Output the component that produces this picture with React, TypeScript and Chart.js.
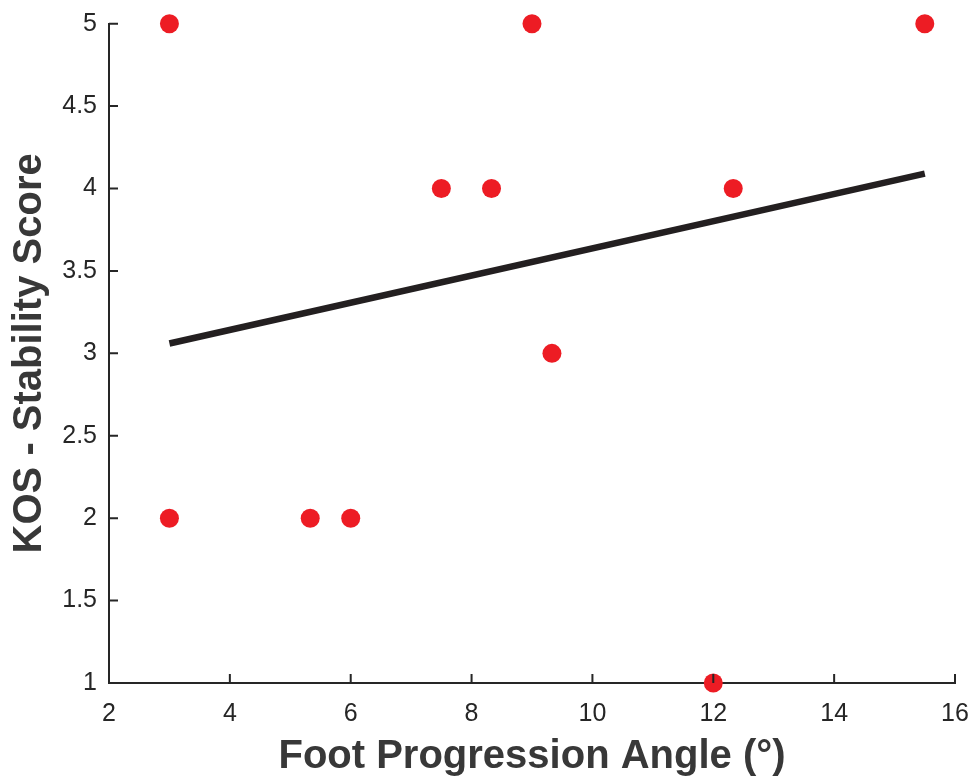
import React, { useEffect, useRef } from "react";
import { Chart, registerables } from "chart.js";

Chart.register(...registerables);

const pointX = [3, 9, 15.5, 7.5, 8.33, 12.33, 9.33, 3, 5.33, 6, 12];
const pointY = [5, 5, 5, 4, 4, 4, 3, 2, 2, 2, 1];
const fitX = [3, 15.5];
const fitY = [3.06, 4.09];
const xTitle = "Foot Progression Angle (°)";
const yTitle = "KOS - Stability Score";

const FONT = "'Liberation Sans', Arial, Helvetica, sans-serif";
const AXIS = "#262626";
const TITLE = "#383838";

const inwardTicks = {
  id: "inwardTicks",
  afterDraw(chart: any) {
    const ctx = chart.ctx;
    const { left, bottom } = chart.chartArea;
    const xs = chart.scales.x;
    const ys = chart.scales.y;
    ctx.save();
    ctx.strokeStyle = AXIS;
    ctx.lineWidth = 2;
    ctx.beginPath();
    xs.ticks.forEach((t: any) => {
      const px = xs.getPixelForValue(t.value);
      ctx.moveTo(px, bottom);
      ctx.lineTo(px, bottom - 9);
    });
    ys.ticks.forEach((t: any) => {
      const py = ys.getPixelForValue(t.value);
      ctx.moveTo(left, py);
      ctx.lineTo(left + 9, py);
    });
    ctx.stroke();
    ctx.restore();
  },
};

export default function App() {
  const ref = useRef<HTMLCanvasElement>(null);
  useEffect(() => {
    if (!ref.current) return;
    const chart = new Chart(ref.current, {
      type: "scatter",
      data: {
        datasets: [
          {
            type: "line",
            data: fitX.map((x, i) => ({ x, y: fitY[i] })),
            borderColor: "#231f20",
            borderWidth: 6.5,
            pointRadius: 0,
            fill: false,
            clip: false,
            order: 1,
          } as any,
          {
            type: "scatter",
            data: pointX.map((x, i) => ({ x, y: pointY[i] })),
            backgroundColor: "#ed1c24",
            borderWidth: 0,
            pointRadius: 9.5,
            clip: false,
            order: 2,
          } as any,
        ],
      },
      options: {
        animation: false,
        responsive: true,
        maintainAspectRatio: false,
        layout: { padding: { top: 23.7, right: 17, left: 0, bottom: 0 } },
        plugins: { legend: { display: false }, tooltip: { enabled: false } },
        scales: {
          x: {
            type: "linear",
            min: 2,
            max: 16,
            afterFit: (s: any) => {
              s.height = 98;
              s.paddingLeft = 0;
              s.paddingRight = 0;
            },
            ticks: {
              stepSize: 2,
              padding: 16,
              maxRotation: 0,
              color: AXIS,
              font: { family: FONT, size: 25 },
              callback: (v: any) => String(v),
            },
            grid: { display: true, drawOnChartArea: false, drawTicks: false, color: AXIS },
            border: { display: true, color: AXIS, width: 2 },
            title: {
              display: true,
              text: xTitle,
              color: TITLE,
              font: { family: FONT, size: 40, weight: "bold" },
              padding: { top: 0, bottom: 0 },
            },
          },
          y: {
            type: "linear",
            min: 1,
            max: 5,
            afterFit: (s: any) => {
              s.width = 109;
              s.paddingTop = 0;
              s.paddingBottom = 0;
            },
            ticks: {
              stepSize: 0.5,
              padding: 12,
              color: AXIS,
              font: { family: FONT, size: 25 },
              callback: (v: any) => String(v),
            },
            grid: { display: true, drawOnChartArea: false, drawTicks: false, color: AXIS },
            border: { display: true, color: AXIS, width: 2 },
            title: {
              display: true,
              text: yTitle,
              color: TITLE,
              font: { family: FONT, size: 40, weight: "bold" },
              padding: { top: 6, bottom: 0 },
            },
          },
        },
      },
      plugins: [inwardTicks],
    });
    return () => chart.destroy();
  }, []);
  return (
    <div style={{ position: "fixed", left: 0, top: 0, width: 972, height: 781, background: "#fff" }}>
      <canvas ref={ref} />
    </div>
  );
}
